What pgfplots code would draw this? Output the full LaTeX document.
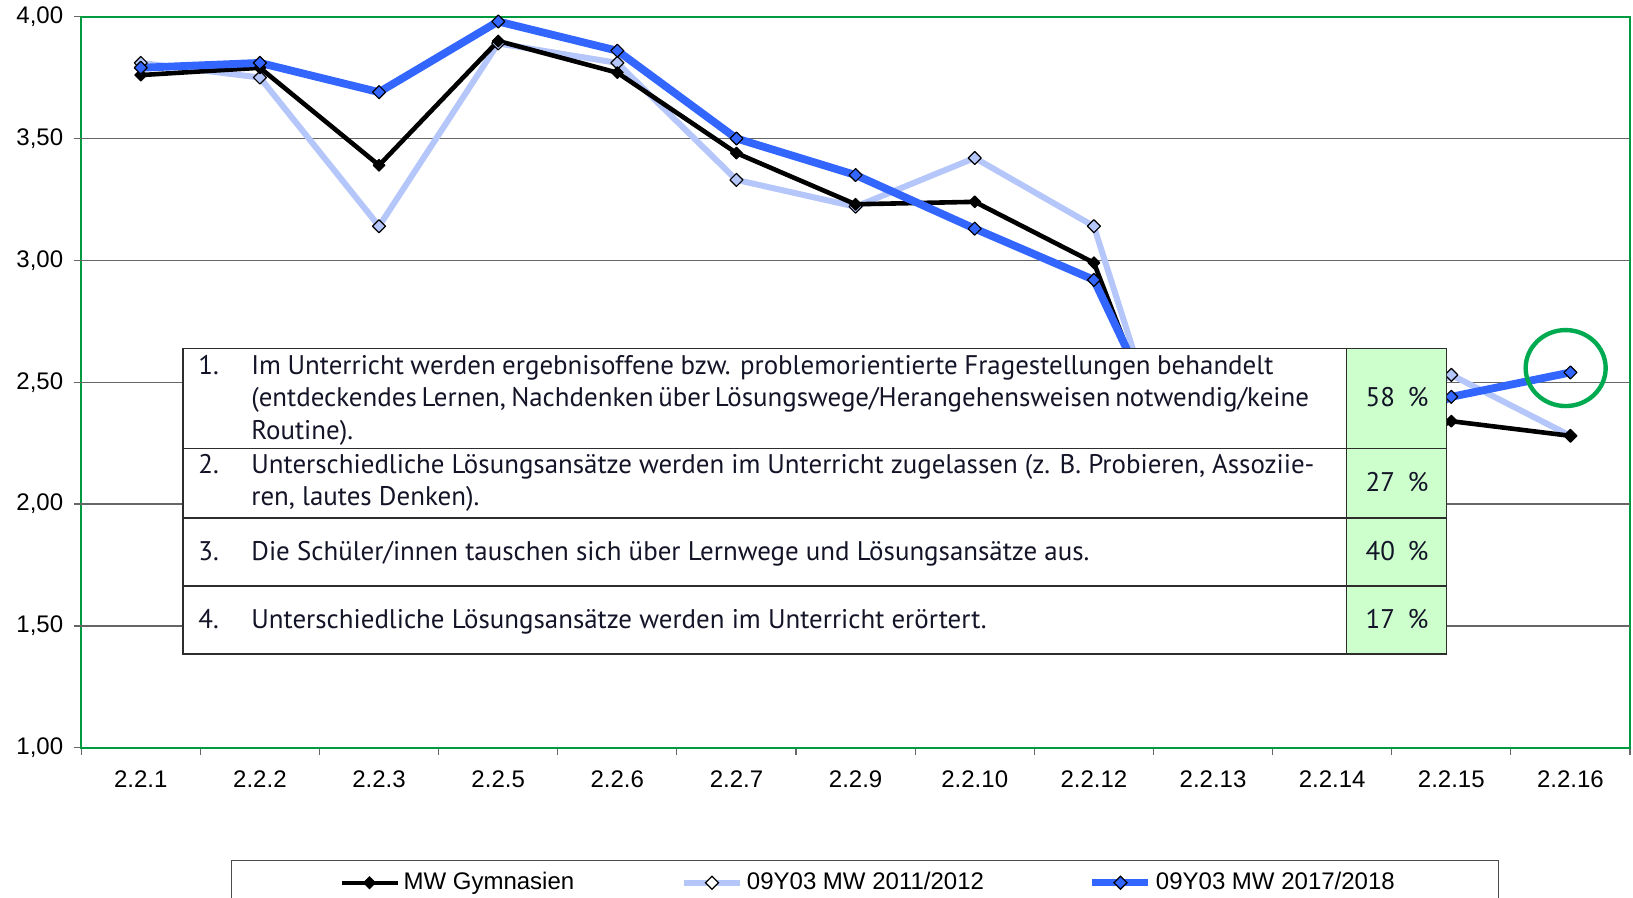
\documentclass[border=0pt]{standalone}
\usepackage{pgfplots}
\pgfplotsset{compat=1.18}
\usepackage{fontspec}
\setmainfont{Liberation Sans}
\newfontfamily\tabfont{PT Sans}
\definecolor{gframe}{RGB}{0,155,65}
\definecolor{gcirc}{RGB}{0,170,80}
\definecolor{bdark}{RGB}{51,102,255}
\definecolor{blight}{RGB}{180,198,250}
\definecolor{tabgreen}{RGB}{204,255,204}
\definecolor{tabtext}{RGB}{20,20,40}
\definecolor{tabline}{RGB}{45,45,45}
\newlength\wref
\settowidth\wref{\tabfont\fontsize{10}{12}\selectfont Die Schüler/innen tauschen sich über Lernwege und Lösungsansätze aus.}
\edef\tabsz{\fpeval{round(10*419/\the\wref,3)}}
\newcommand\tf{\tabfont\fontsize{\tabsz}{\tabsz}\selectfont\color{tabtext}}
\begin{document}
\begin{tikzpicture}
\begin{axis}[
  at={(40.6pt,-8.3pt)}, anchor=north west,
  scale only axis, width=774.4pt, height=365.6pt,
  xmin=-0.5, xmax=12.5, ymin=1, ymax=4,
  xtick={-0.5,0.5,1.5,2.5,3.5,4.5,5.5,6.5,7.5,8.5,9.5,10.5,11.5,12.5},
  xticklabels={},
  extra x ticks={0,1,2,3,4,5,6,7,8,9,10,11,12},
  extra x tick labels={2.2.1,2.2.2,2.2.3,2.2.5,2.2.6,2.2.7,2.2.9,2.2.10,2.2.12,2.2.13,2.2.14,2.2.15,2.2.16},
  extra x tick style={major tick length=0pt, major x tick style={draw=none}},
  ytick={1,1.5,...,4},
  yticklabels={{1,00},{1,50},{2,00},{2,50},{3,00},{3,50},{4,00}},
  extra y ticks={1.5,2,2.5,3,3.5},
  extra y tick labels={},
  extra y tick style={grid=major, major grid style={draw=black!60, line width=0.6pt}},
  xtick pos=left, ytick pos=left,
  tick align=outside,
  major tick length=3.5pt,
  tick style={draw=black!60, line width=0.6pt},
  tick label style={font=\fontsize{12}{14}\selectfont},
  yticklabel style={xshift=-2pt},
  xticklabel style={yshift=-7.7pt},
  axis line style={draw=gframe, line width=1pt},
  legend columns=3,
  legend cell align=left,
  legend image code/.code={\draw[mark repeat=2,mark phase=2,#1] plot coordinates {(0pt,0pt) (14pt,0pt) (28pt,0pt)};},
  legend style={at={(axis description cs:0.0967,-0.1534)}, anchor=north west,
    draw=black!70, line width=0.6pt, inner xsep=54pt, inner ysep=4pt,
    font=\fontsize{12}{14}\selectfont,
    /tikz/every even column/.append style={column sep=0pt},
    /tikz/every odd column/.append style={column sep=0pt}},
]
\addplot[blight, line width=3pt, line join=round, mark=square*, mark size=2.3pt,
  mark options={rotate=45, fill=blight, draw=black, line width=0.6pt}, forget plot]
  coordinates {(0,3.81)(1,3.75)(2,3.14)(3,3.89)(4,3.81)(5,3.33)(6,3.22)(7,3.42)(8,3.14)(9,1.60)(10,2.20)(11,2.53)(12,2.28)};
\addplot[black, line width=2.3pt, line join=round, mark=square*, mark size=2.1pt,
  mark options={rotate=45, fill=black, draw=black, line width=0.5pt}, forget plot]
  coordinates {(0,3.76)(1,3.79)(2,3.39)(3,3.90)(4,3.77)(5,3.44)(6,3.23)(7,3.24)(8,2.99)(9,1.73)(10,2.10)(11,2.34)(12,2.28)};
\addplot[bdark, line width=3.9pt, line join=round, mark=square*, mark size=2.3pt,
  mark options={rotate=45, fill=bdark, draw=black, line width=0.6pt}, forget plot]
  coordinates {(0,3.79)(1,3.81)(2,3.69)(3,3.98)(4,3.86)(5,3.50)(6,3.35)(7,3.13)(8,2.92)(9,1.89)(10,2.20)(11,2.44)(12,2.54)};
\addlegendimage{black, line width=2pt, mark=square*, mark size=2.1pt, mark options={rotate=45, fill=black, draw=black, line width=0.5pt}}
\addlegendentry{\makebox[136.7pt][l]{MW Gymnasien}}
\addlegendimage{blight, line width=3pt, mark=square*, mark size=2.3pt, mark options={rotate=45, fill=white, draw=black, line width=0.6pt}}
\addlegendentry{\makebox[169pt][l]{09Y03 MW 2011/2012}}
\addlegendimage{bdark, line width=3.5pt, mark=square*, mark size=2.3pt, mark options={rotate=45, fill=bdark, draw=black, line width=0.6pt}}
\addlegendentry{09Y03 MW 2017/2018\kern-4.2pt}
\draw[gcirc, line width=2.2pt] (axis cs:11.96,2.558) ellipse [x radius=20pt, y radius=19pt];
\end{axis}
% overlay table
\fill[white] (91.5pt,-174.2pt) rectangle (723.3pt,-327pt);
\fill[tabgreen] (673.3pt,-174.2pt) rectangle (723.3pt,-327pt);
\draw[tabline, line width=0.8pt] (91.5pt,-174.2pt) rectangle (723.3pt,-327pt);
\draw[tabline, line width=0.8pt] (91.5pt,-224.3pt) -- (723.3pt,-224.3pt)
  (91.5pt,-258.9pt) -- (723.3pt,-258.9pt)
  (91.5pt,-293pt) -- (723.3pt,-293pt)
  (673.3pt,-174.2pt) -- (673.3pt,-327pt);
\begin{scope}[every node/.style={inner sep=0pt, anchor=base west}]
\node at (99pt,-187.3pt) {\tf 1.};
\node at (125.5pt,-187.3pt) {\tf\makebox[511pt][s]{Im Unterricht werden ergebnisoffene bzw. problemorientierte Fragestellungen behandelt}};
\node at (125.5pt,-203.5pt) {\tf\makebox[527pt][s]{(entdeckendes Lernen, Nachdenken über Lösungswege/Herangehensweisen notwendig/keine}};
\node at (125.5pt,-219.6pt) {\tf Routine).};
\node at (99pt,-236.8pt) {\tf 2.};
\node at (125.5pt,-236.8pt) {\tf\makebox[531.5pt][s]{Unterschiedliche Lösungsansätze werden im Unterricht zugelassen (z. B. Probieren, Assoziie-}};
\node at (125.5pt,-252.9pt) {\tf ren, lautes Denken).};
\node at (99pt,-280pt) {\tf 3.};
\node at (125.5pt,-280pt) {\tf Die Schüler/innen tauschen sich über Lernwege und Lösungsansätze aus.};
\node at (99pt,-314.4pt) {\tf 4.};
\node at (125.5pt,-314.4pt) {\tf Unterschiedliche Lösungsansätze werden im Unterricht erörtert.};
\end{scope}
\begin{scope}[every node/.style={inner sep=0pt, anchor=base}]
\node at (698.5pt,-203.5pt) {\tf 58\kern0.2em~\%};
\node at (698.5pt,-245.5pt) {\tf 27\kern0.2em~\%};
\node at (698.5pt,-280pt) {\tf 40\kern0.2em~\%};
\node at (698.5pt,-314.4pt) {\tf 17\kern0.2em~\%};
\end{scope}
\pgfresetboundingbox
\useasboundingbox (0pt,0pt) rectangle (816.5pt,-449pt);
\end{tikzpicture}
\end{document}
